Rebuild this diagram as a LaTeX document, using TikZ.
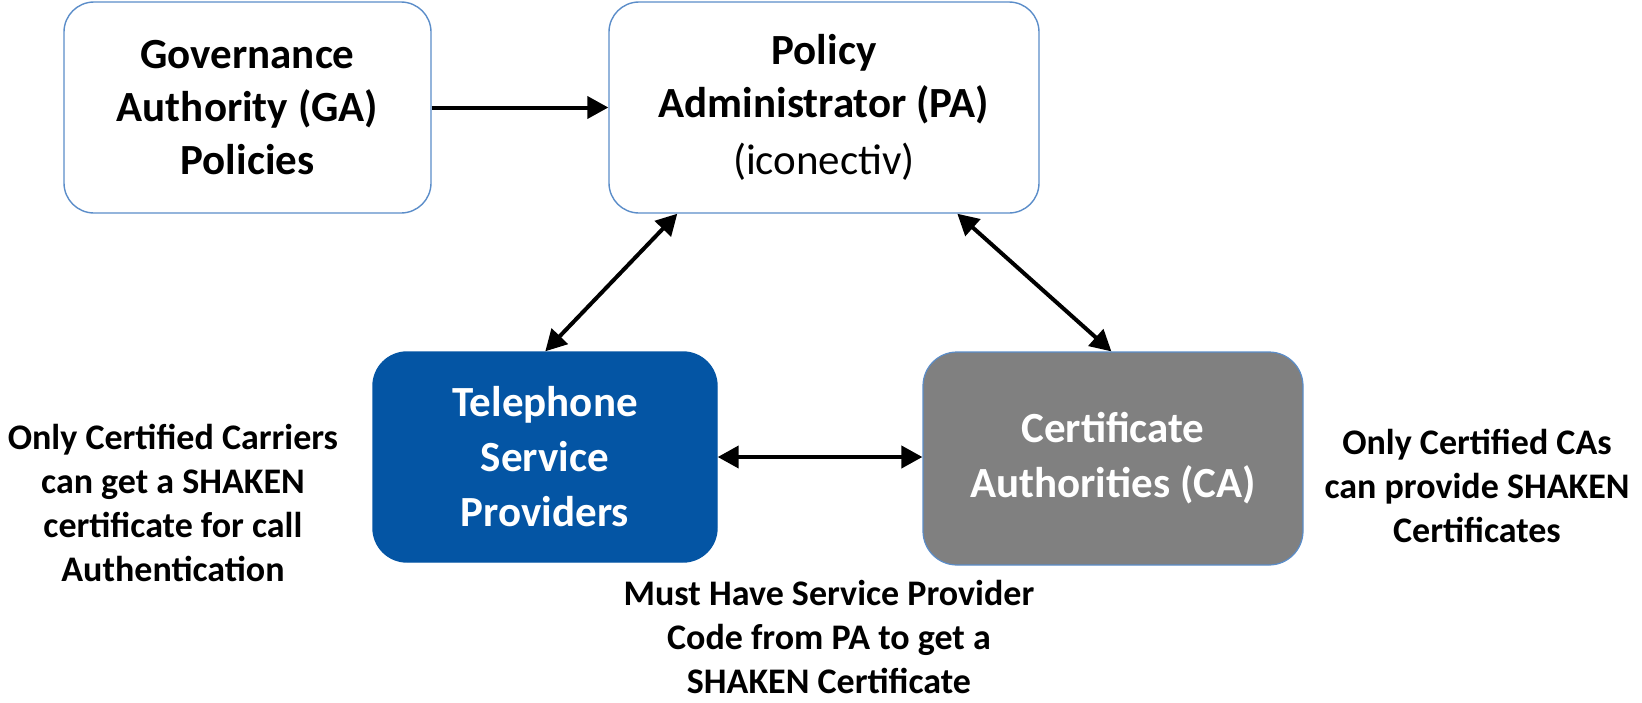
\documentclass[tikz,border=0pt]{standalone}
\usepackage{fontspec}
\setmainfont{Carlito}
\usetikzlibrary{arrows.meta,calc}
\definecolor{bordblue}{HTML}{5B8DC9}
\definecolor{tspblue}{HTML}{0455A4}
\definecolor{cagray}{HTML}{808080}
\begin{document}
\begin{tikzpicture}[x=1pt,y=-1pt,
  wbox/.style={draw=bordblue, fill=white, line width=1.4pt, rounded corners=30pt, align=center, inner sep=0pt, font=\fontsize{43}{53}\selectfont\bfseries},
  tspbox/.style={draw=tspblue, fill=tspblue, line width=1.4pt, rounded corners=34pt, align=center, inner sep=0pt, text=white, font=\fontsize{43}{55}\selectfont\bfseries},
  cabox/.style={draw=bordblue, fill=cagray, line width=1.2pt, rounded corners=34pt, align=center, inner sep=0pt, text=white, font=\fontsize{43}{55}\selectfont\bfseries},
  note/.style={align=center, inner sep=0pt, font=\fontsize{36}{44}\selectfont\bfseries},
  tip/.style={Triangle[length=21pt,width=22pt]},
  arr/.style={line width=4pt, -{Triangle[length=21pt,width=22pt]}},
  darr/.style={line width=4pt, {Triangle[length=21pt,width=22pt]}-{Triangle[length=21pt,width=22pt]}}
]
\useasboundingbox (0,0) rectangle (1642,702);

\node[wbox, minimum width=367pt, minimum height=211pt] (GA) at (247.5,107.5)
  {Governance\\Authority (GA)\\Policies};
\node[wbox, minimum width=430pt, minimum height=211pt] (PA) at (824,107.5)
  {Policy\\Administrator (PA)\\[4pt]{\mdseries (iconectiv)}};
\node[tspbox, minimum width=344pt, minimum height=210pt] (TSP) at (545,457)
  {Telephone\\Service\\Providers};
\node[cabox, minimum width=380pt, minimum height=213pt] (CA) at (1113,458.5)
  {Certificate\\Authorities (CA)};

\node[note] (n1) at (173,503) {Only Certified Carriers\\can get a SHAKEN\\certificate for call\\Authentication};
\node[note] (n2) at (1477,486) {Only Certified CAs\\can provide SHAKEN\\Certificates};
\node[note] (n3) at (829,637) {Must Have Service Provider\\Code from PA to get a\\SHAKEN Certificate};

\coordinate (paL) at ($(PA.south west)+(69,0)$);
\coordinate (tspT) at ($(TSP.north west)+(173,0)$);
\coordinate (paR) at ($(PA.south west)+(349,0)$);
\coordinate (caT) at ($(CA.north west)+(189,0)$);

\draw[arr] (GA.east) -- (GA.east -| PA.west);
\draw[darr] (paL) -- (tspT);
\draw[darr] (paR) -- (caT);
\draw[darr] (TSP.east) -- (TSP.east -| CA.west);
\end{tikzpicture}
\end{document}
